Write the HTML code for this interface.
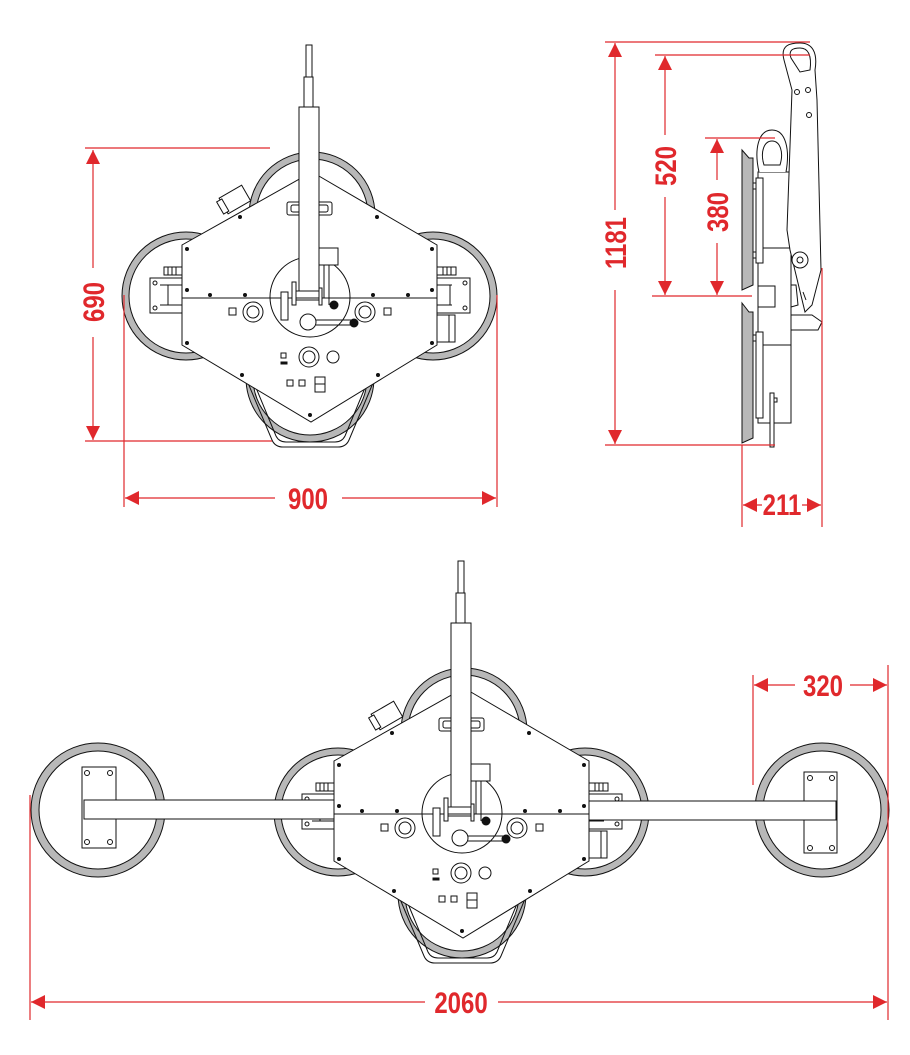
<!DOCTYPE html>
<html><head><meta charset="utf-8"><style>
html,body{margin:0;padding:0;background:#fff;}
svg{display:block;}
.d{font-family:"Liberation Sans",sans-serif;font-weight:bold;font-size:30px;fill:#e0282c;}
</style></head><body>
<svg width="910" height="1055" viewBox="0 0 910 1055" xmlns="http://www.w3.org/2000/svg">
<defs>
<marker id="a" viewBox="0 0 10 10" refX="10" refY="5" markerWidth="14" markerHeight="14" markerUnits="userSpaceOnUse" orient="auto-start-reverse"><path d="M0,0 L10,5 L0,10 z" fill="#e0282c"/></marker>
<g id="unit" stroke="#111" stroke-width="1" fill="none">
  <g fill="#b8b8b8">
    <circle cx="312" cy="215" r="63"/><circle cx="186" cy="296" r="64"/>
    <circle cx="433" cy="296" r="64"/><circle cx="310" cy="378" r="64"/>
  </g>
  <g fill="#fff">
    <circle cx="312" cy="215" r="56"/><circle cx="186" cy="296" r="57"/>
    <circle cx="433" cy="296" r="57"/><circle cx="310" cy="378" r="57"/>
  </g>
  <!-- handle -->
  <path d="M248,383 L272,440 Q275,447 283,447 L338,447 Q346,447 349,440 L373,383" fill="none"/>
  <path d="M254,383 L276,436 Q279,442 286,442 L335,442 Q342,442 345,436 L367,383"/>
  <g fill="#fff">
    <rect x="150" y="278" width="33" height="35"/>
    <rect x="164" y="267" width="19" height="8"/>
    <rect x="437" y="278" width="33" height="35"/>
    <rect x="437" y="267" width="19" height="8"/>
    <rect x="437" y="315" width="18" height="27"/>
  </g>
  <path d="M160,285 H183 M160,305 H183 M168,285 V305 M452,285 H437 M452,305 H437 M450,285 V305 M168,267 V275 M172,267 V275 M176,267 V275 M443,267 V275 M447,267 V275 M451,267 V275 M449,315 V342"/>
  <circle cx="155" cy="283" r="2"/><circle cx="155" cy="308" r="2"/>
  <circle cx="465" cy="283" r="2"/><circle cx="465" cy="308" r="2"/>
  <g transform="translate(234,200) rotate(-30)" fill="#fff"><rect x="-12" y="-9" width="26" height="18"/><rect x="-16" y="-7" width="6" height="14"/></g>
  <polygon points="312,172 437,245 437,345 311,422 182,345 182,245" fill="#fff"/>
  <line x1="182" y1="298" x2="437" y2="298"/>
  <circle cx="310" cy="297" r="40"/>
  <rect x="287" y="202" width="45" height="13" rx="2"/>
  <rect x="291" y="205" width="37" height="7" rx="2"/>
  <circle cx="253" cy="312" r="10"/><circle cx="253" cy="312" r="6"/>
  <circle cx="365" cy="312" r="10"/><circle cx="365" cy="312" r="6"/>
  <circle cx="309" cy="357" r="10"/><circle cx="309" cy="357" r="6"/>
  <circle cx="333" cy="357" r="6"/>
  <rect x="229" y="308" width="7" height="7"/><rect x="384" y="308" width="7" height="7"/>
  <rect x="281" y="353" width="5" height="5"/><rect x="281" y="362" width="6" height="2" fill="#111"/>
  <rect x="287" y="380" width="6" height="6"/><rect x="299" y="380" width="6" height="6"/>
  <rect x="315" y="377" width="10" height="15"/><line x1="315" y1="384" x2="325" y2="384"/>
  <rect x="306" y="45" width="6" height="32" fill="#fff"/>
  <rect x="304" y="77" width="9" height="30" fill="#fff"/>
  <rect x="299" y="107" width="20" height="184" fill="#fff"/>
  <rect x="319" y="248" width="19" height="17" fill="#fff"/>
  <path d="M324,265 V298 M329,265 V305"/>
  <rect x="281" y="292" width="7" height="28" fill="#fff"/>
  <rect x="292" y="282" width="4" height="23" fill="#fff"/>
  <path d="M296,291 H319 M296,300 H319"/>
  <rect x="319" y="288" width="3" height="17" fill="#fff"/>
  <circle cx="308" cy="322" r="8" fill="#fff"/>
  <path d="M316,320 H354 M316,325 H354"/>
  <g fill="#111" stroke="none"><circle cx="334" cy="305" r="4.5"/><circle cx="354" cy="323" r="4.5"/>
  <circle cx="240" cy="217" r="2"/><circle cx="377" cy="217" r="2"/><circle cx="187" cy="249" r="2"/><circle cx="432" cy="249" r="2"/>
  <circle cx="187" cy="290" r="2"/><circle cx="432" cy="290" r="2"/><circle cx="210" cy="295" r="2"/><circle cx="245" cy="295" r="2"/>
  <circle cx="373" cy="295" r="2"/><circle cx="408" cy="295" r="2"/><circle cx="187" cy="343" r="2"/><circle cx="432" cy="343" r="2"/>
  <circle cx="242" cy="375" r="2"/><circle cx="378" cy="375" r="2"/><circle cx="310" cy="415" r="2"/></g>
</g>
</defs>

<use href="#unit"/>
<use href="#unit" transform="translate(152,516)"/>

<g stroke="#111" fill="none">
  <circle cx="98" cy="810" r="67" fill="#b8b8b8"/><circle cx="98" cy="810" r="59" fill="#fff"/>
  <circle cx="822" cy="810" r="67" fill="#b8b8b8"/><circle cx="822" cy="810" r="59" fill="#fff"/>
  <rect x="82" y="767" width="34" height="81" fill="#fff"/>
  <rect x="804" y="772" width="33" height="81" fill="#fff"/>
  <circle cx="87" cy="773" r="2.5"/><circle cx="110" cy="773" r="2.5"/><circle cx="87" cy="842" r="2.5"/><circle cx="110" cy="842" r="2.5"/>
  <circle cx="810" cy="778" r="2.5"/><circle cx="832" cy="778" r="2.5"/><circle cx="810" cy="848" r="2.5"/><circle cx="832" cy="848" r="2.5"/>
  <rect x="84" y="800" width="250" height="19" fill="#fff"/>
  <rect x="589" y="801" width="247" height="19" fill="#fff"/>
</g>

<g stroke="#111" fill="none">
  <path d="M742,150 L749,158 L753,158 L753,285 L742,290 z" fill="#b8b8b8"/>
  <path d="M742,303 L749,312 L753,312 L753,438 L742,443 z" fill="#b8b8b8"/>
  <rect x="758" y="172" width="33" height="251" fill="#fff"/>
  <path d="M758,248 H791 M758,345 H791"/>
  <rect x="756" y="178" width="7" height="85" fill="#fff"/>
  <rect x="756" y="332" width="7" height="86" fill="#fff"/>
  <rect x="753" y="183" width="3" height="6"/><rect x="753" y="252" width="3" height="6"/><rect x="753" y="335" width="3" height="6"/>
  <rect x="758" y="286" width="17" height="21" fill="#fff"/>
  <rect x="770" y="393" width="4" height="54" fill="#fff"/><rect x="774" y="398" width="3" height="4"/>
  <path d="M759,172 C754,150 758,130 772,130 C786,130 790,150 786,172" fill="#fff"/>
  <path d="M764,165 C760,152 764,141 772,141 C780,141 784,152 780,165 z"/>
  <path d="M790,250 L787,230 L792,90 L784,60 C780,45 790,43 800,43 C812,43 818,52 815,70 L817,100 L821,270 L812,305 L805,312 Z" fill="#fff"/>
  <path d="M791,58 C788,50 793,48 800,48 C808,48 812,55 810,70 L800,72 Z"/>
  <circle cx="797" cy="92" r="2.5"/><circle cx="808" cy="90" r="2.5"/><circle cx="809" cy="115" r="2.5"/>
  <circle cx="800" cy="260" r="8" fill="#fff"/><circle cx="800" cy="260" r="3"/>
  <path d="M791,285 L796,285 L798,305 L791,307 M791,315 L812,315 L822,322 L818,330 L791,330 M803,292 L806,300"/>
</g>

<g stroke="#e0282c" stroke-width="1.2" fill="none">
  <path d="M85,148 H270 M85,441 H272 M124,295 V507 M497,295 V507"/>
  <line x1="93" y1="150" x2="93" y2="268" marker-start="url(#a)"/>
  <line x1="93" y1="337" x2="93" y2="440" marker-end="url(#a)"/>
  <line x1="125" y1="498" x2="275" y2="498" marker-start="url(#a)"/>
  <line x1="342" y1="498" x2="496" y2="498" marker-end="url(#a)"/>
  <path d="M605,42 H810 M605,445 H775 M655,55 H810 M705,138 H775 M652,296 H752 M742,445 V527 M822,268 V527"/>
  <line x1="615" y1="43" x2="615" y2="210" marker-start="url(#a)"/>
  <line x1="615" y1="290" x2="615" y2="444" marker-end="url(#a)"/>
  <line x1="665" y1="56" x2="665" y2="135" marker-start="url(#a)"/>
  <line x1="665" y1="197" x2="665" y2="295" marker-end="url(#a)"/>
  <line x1="717" y1="139" x2="717" y2="180" marker-start="url(#a)"/>
  <line x1="717" y1="243" x2="717" y2="295" marker-end="url(#a)"/>
  <line x1="743" y1="505" x2="762" y2="505" marker-start="url(#a)"/>
  <line x1="802" y1="505" x2="821" y2="505" marker-end="url(#a)"/>
  <path d="M753,675 V785 M888,665 V1020 M30,795 V1020"/>
  <line x1="754" y1="685" x2="795" y2="685" marker-start="url(#a)"/>
  <line x1="850" y1="685" x2="887" y2="685" marker-end="url(#a)"/>
  <line x1="31" y1="1002" x2="425" y2="1002" marker-start="url(#a)"/>
  <line x1="498" y1="1002" x2="887" y2="1002" marker-end="url(#a)"/>
</g>
<g class="d" text-anchor="middle">
  <text transform="translate(308,509) scale(0.8,1)">900</text>
  <text transform="translate(104,302) rotate(-90) scale(0.8,1)">690</text>
  <text transform="translate(626,243) rotate(-90) scale(0.8,1)">1181</text>
  <text transform="translate(676,166) rotate(-90) scale(0.8,1)">520</text>
  <text transform="translate(728,212) rotate(-90) scale(0.8,1)">380</text>
  <text transform="translate(782,515) scale(0.8,1)">211</text>
  <text transform="translate(823,696) scale(0.8,1)">320</text>
  <text transform="translate(461,1013) scale(0.8,1)">2060</text>
</g>
</svg>
</body></html>
